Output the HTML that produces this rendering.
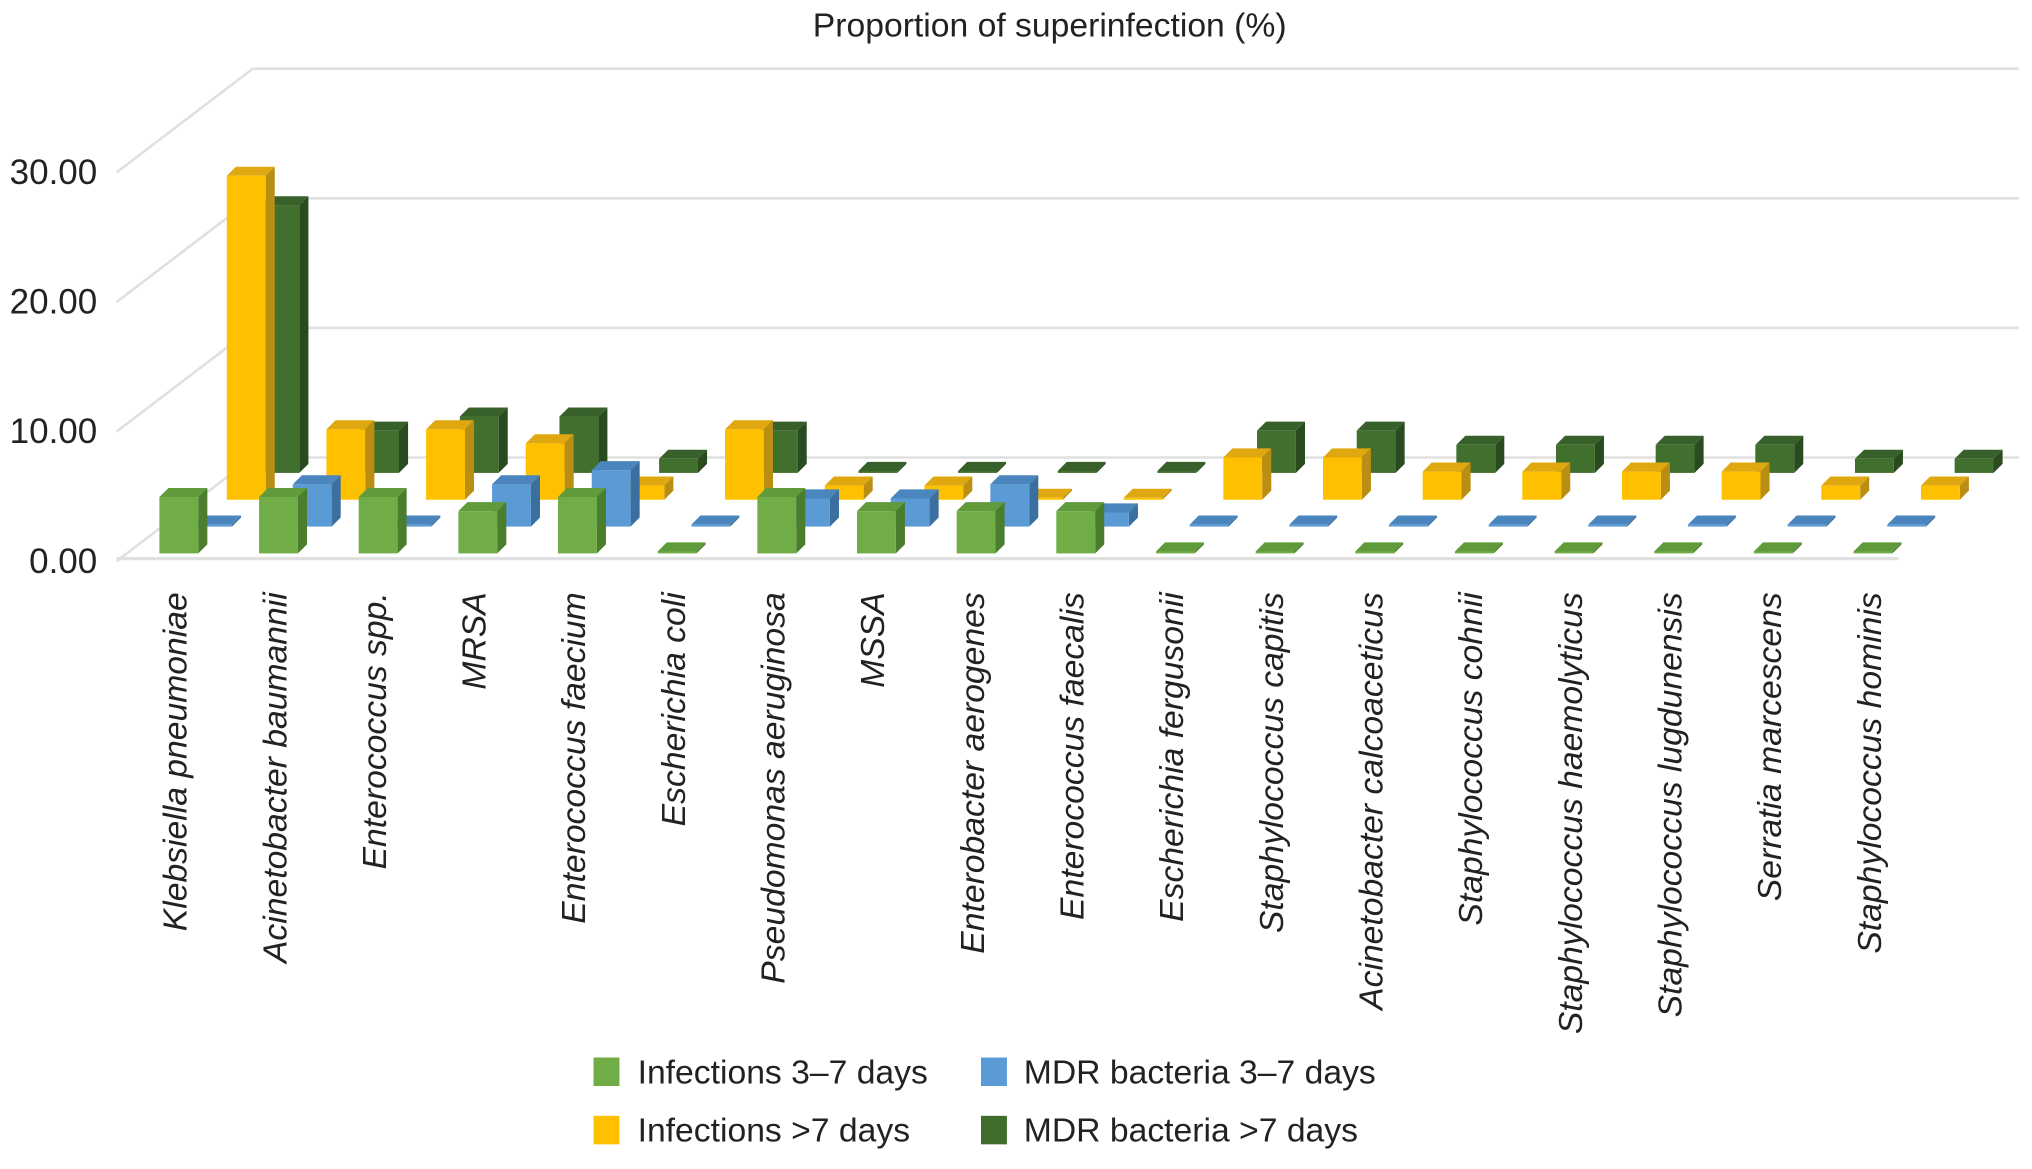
<!DOCTYPE html>
<html><head><meta charset="utf-8"><style>
html,body{margin:0;padding:0;background:#fff;}
svg{display:block;font-family:"Liberation Sans",Arial,sans-serif;}
</style></head><body>
<svg id="chart" width="2032" height="1169" viewBox="0 0 1568 902" xmlns="http://www.w3.org/2000/svg">
<text x="810" y="28" font-size="26" text-anchor="middle" fill="#222">Proportion of superinfection (%)</text>
<g id="grid"></g>
<g id="yaxis"></g>
<g id="bars"></g>
<g id="xaxis"></g>
<g font-size="26" fill="#222">
 <g><rect x="458" y="816" width="20" height="22" fill="#70ad47"/><text x="492" y="836">Infections 3–7 days</text></g>
 <g><rect x="757" y="816" width="20" height="22" fill="#5b9bd5"/><text x="790" y="836">MDR bacteria 3–7 days</text></g>
 <g><rect x="458" y="861" width="20" height="22" fill="#ffc000"/><text x="492" y="881">Infections &gt;7 days</text></g>
 <g><rect x="757" y="861" width="20" height="22" fill="#3f6e2c"/><text x="790" y="881">MDR bacteria &gt;7 days</text></g>
</g>
</svg>
<script>
const categories = ["Klebsiella pneumoniae","Acinetobacter baumannii","Enterococcus spp.","MRSA","Enterococcus faecium","Escherichia coli","Pseudomonas aeruginosa","MSSA","Enterobacter aerogenes","Enterococcus faecalis","Escherichia fergusonii","Staphylococcus capitis","Acinetobacter calcoaceticus","Staphylococcus cohnii","Staphylococcus haemolyticus","Staphylococcus lugdunensis","Serratia marcescens","Staphylococcus hominis"];
const infections37 = [4.35,4.35,4.35,3.26,4.35,0,4.35,3.26,3.26,3.26,0,0,0,0,0,0,0,0];
const mdr37 = [0,3.26,0,3.26,4.35,0,2.17,2.17,3.26,1.09,0,0,0,0,0,0,0,0];
const infections7 = [25.0,5.43,5.43,4.35,1.09,5.43,1.09,1.09,0,0,3.26,3.26,2.17,2.17,2.17,2.17,1.09,1.09];
const mdr7 = [20.65,3.26,4.35,4.35,1.09,3.26,0,0,0,0,3.26,3.26,2.17,2.17,2.17,2.17,1.09,1.09];
const yTicks = [0,10,20,30];
const yTickLabels = ["0.00","10.00","20.00","30.00"];

const NS="http://www.w3.org/2000/svg";
const PX_PER_UNIT=10, BASE_Y=427, X0=123, STEP=76.9, ROW_DX=26, ROW_DY=-20.7, BW=30, DD=7;
function yScale(v){return v*PX_PER_UNIT;}
function xScale(i,row){return X0+STEP*i+ROW_DX*row;}
function baseY(row){return BASE_Y+ROW_DY*row;}
function mk(tag,attrs,parent){const e=document.createElementNS(NS,tag);for(const k in attrs)e.setAttribute(k,attrs[k]);parent.appendChild(e);return e;}

const grid=document.getElementById('grid');
const yaxis=document.getElementById('yaxis');
const FX=90, FY=433, BDX=105, BDY=-80, BACK_RIGHT=1558;
yTicks.forEach((t,k)=>{
  const fy=FY-yScale(t);
  const d=mk('line',{x1:FX,y1:fy,x2:FX+BDX,y2:fy+BDY,stroke:'#e0e0e0','stroke-width':2},grid);
  
  
  const h=mk('line',{x1:FX+BDX,y1:fy+BDY,x2:BACK_RIGHT,y2:fy+BDY,stroke:'#e0e0e0','stroke-width':2},grid);
  
  
  const tx=mk('text',{x:75,y:fy+9,'font-size':27,'text-anchor':'end',fill:'#222'},yaxis);
  tx.textContent=yTickLabels[k];
  
  
});
const fl=mk('line',{x1:FX,y1:FY-2,x2:1465,y2:FY-2,stroke:'#e0e0e0','stroke-width':2.5},grid);



const series=[
 {vals:infections37,name:'infections-3-7',front:'#70ad47',top:'#5f9a3b',side:'#4a7d2c'},
 {vals:mdr37,name:'mdr-3-7',front:'#5b9bd5',top:'#4a86bd',side:'#3a6f9f'},
 {vals:infections7,name:'infections-over-7',front:'#ffc000',top:'#e0a810',side:'#b98e12'},
 {vals:mdr7,name:'mdr-over-7',front:'#416f2e',top:'#37602a',side:'#2a4a1f'}
];
const bars=document.getElementById('bars');
for(let r=3;r>=0;r--){
  const s=series[r];
  s.vals.forEach((v,i)=>{
    const x=xScale(i,r), y0=baseY(r), h=Math.max(yScale(v),1.5), yt=y0-h;
    const g=mk('g',{},bars);
    
    
    mk('polygon',{points:`${x},${yt} ${x+DD},${yt-DD} ${x+BW+DD},${yt-DD} ${x+BW},${yt}`,fill:s.top},g);
    mk('polygon',{points:`${x+BW},${yt} ${x+BW+DD},${yt-DD} ${x+BW+DD},${y0-DD} ${x+BW},${y0}`,fill:s.side},g);
    mk('rect',{x:x,y:yt,width:BW,height:h,fill:s.front},g);
  });
}
const xaxis=document.getElementById('xaxis');
categories.forEach((c,i)=>{
  const cx=xScale(i,0)+21, ty=457;
  const t=mk('text',{x:cx,y:ty,'font-size':26,'font-style':'italic','text-anchor':'end',fill:'#222',transform:`rotate(-90 ${cx} ${ty})`},xaxis);
  t.textContent=c;
  
  
});
</script>
</body></html>
